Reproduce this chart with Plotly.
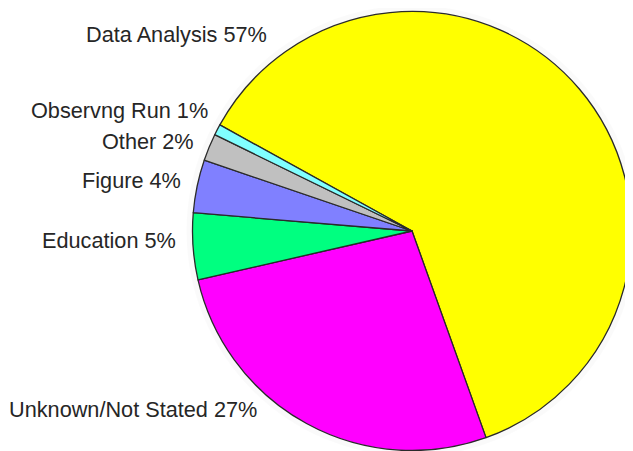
import plotly.graph_objects as go

categories = ["Data Analysis", "Unknown/Not Stated", "Education", "Figure", "Other", "Observng Run"]
# slice sizes as drawn (share of circle, percent)
values = [61.5, 26.9, 4.9, 3.9, 2.0, 0.8]
# percentages as printed on the labels
label_pcts = ["57%", "27%", "5%", "4%", "2%", "1%"]
colors = ["#FFFF00", "#FF00FF", "#00FF80", "#8080FF", "#C0C0C0", "#80FFFF"]

# page body has an 8px margin; work in figure coordinates
OFF = 8
W, H = 633 - OFF, 451 - OFF
cx, cy, r = 412 - OFF, 231 - OFF, 219.5

# label anchor positions (right edge x, middle y) in screen pixels
label_pos = [(269, 35), (259, 409), (178, 240), (183, 180), (196, 141), (210, 111)]

fig = go.Figure()
fig.add_trace(go.Pie(
    labels=categories,
    values=values,
    sort=False,
    direction="clockwise",
    rotation=-61.1,
    marker=dict(colors=colors, line=dict(color="#2a2a2a", width=1.3)),
    textinfo="none",
    hoverinfo="label+percent",
    showlegend=False,
    domain=dict(x=[(cx - r) / W, (cx + r) / W], y=[(H - cy - r) / H, (H - cy + r) / H]),
))

# faint shadow behind the pie
fig.add_shape(type="circle", xref="paper", yref="paper", layer="below",
              x0=(cx - r - 6) / W, x1=(cx + r + 6) / W,
              y0=(H - cy - r - 6) / H, y1=(H - cy + r + 6) / H,
              line=dict(width=0), fillcolor="rgba(0,0,0,0.02)")

for name, pct, (px, py) in zip(categories, label_pcts, label_pos):
    fig.add_annotation(x=(px - OFF) / W, y=(H - (py - OFF)) / H, xref="paper", yref="paper",
                       text=f"{name} {pct}", showarrow=False,
                       xanchor="right", yanchor="middle",
                       font=dict(family="Liberation Sans, Arial, sans-serif", size=21.7, color="#262626"))

fig.update_layout(width=W, height=H, margin=dict(l=0, r=0, t=0, b=0),
                  paper_bgcolor="white", plot_bgcolor="white")
fig.write_html("out.html")
